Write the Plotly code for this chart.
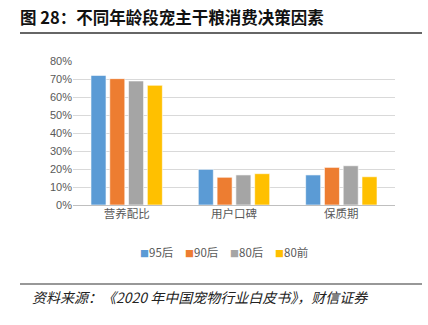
import plotly.graph_objects as go

categories = ["营养配比", "用户口碑", "保质期"]
series_names = ["95后", "90后", "80后", "80前"]
v95 = [0.72, 0.198, 0.167]
v90 = [0.702, 0.154, 0.209]
v80 = [0.689, 0.167, 0.218]
v80q = [0.665, 0.174, 0.157]
colors = ["#5B9BD5", "#ED7D31", "#A5A5A5", "#FFC000"]
yticks = [0, 0.1, 0.2, 0.3, 0.4, 0.5, 0.6, 0.7, 0.8]

W, H = 428, 325
L, R, T, B = 73, 33, 61, 120
pw, ph = W - L - R, H - T - B

def px(x):
    return (x - L) / pw

def py(y):
    return (H - B - y) / ph

fig = go.Figure()
for name, vals, c in zip(series_names, [v95, v90, v80, v80q], colors):
    fig.add_trace(go.Bar(x=categories, y=vals, name=name, showlegend=False,
                         marker=dict(color=c, line=dict(color="white", width=0.6))))

fig.update_layout(
    width=W, height=H,
    margin=dict(l=L, r=R, t=T, b=B),
    paper_bgcolor="white", plot_bgcolor="white",
    barmode="group", bargap=0.3, bargroupgap=0.2,
    font=dict(family="Noto Sans CJK SC", color="#595959", size=11),
    title=dict(text="<b>图 28：不同年龄段宠主干粮消费决策因素</b>", xref="container", yref="container",
               x=20 / W, xanchor="left", y=1 - 18 / H, yanchor="middle",
               font=dict(family="Noto Sans CJK SC", size=16.5, color="#111111")),
)
fig.update_yaxes(range=[0, 0.8], tickvals=yticks, tickformat=".0%", showgrid=True, gridcolor="#D9D9D9",
                 gridwidth=1, zeroline=True, zerolinecolor="#BFBFBF", zerolinewidth=1,
                 tickfont=dict(family="Liberation Sans", size=11, color="#595959"), ticks="", fixedrange=True)
fig.update_xaxes(showline=False, ticks="", tickfont=dict(size=11.5, color="#595959"))

# legend drawn as compact text items
leg_x = [138, 183, 228, 273]
for name, c, lx in zip(series_names, colors, leg_x):
    fig.add_annotation(text=f"<span style='color:{c};font-size:9px'>■</span>{name}", xref="paper", yref="paper",
                       x=px(lx), xanchor="left", y=py(252), yanchor="middle", showarrow=False,
                       font=dict(family="Noto Sans CJK SC", size=11.5, color="#595959"))

fig.add_shape(type="line", xref="paper", yref="paper", x0=px(20), x1=px(422), y0=py(33), y1=py(33),
              line=dict(color="#333333", width=1.5))
fig.add_shape(type="line", xref="paper", yref="paper", x0=px(20), x1=px(422), y0=py(284), y1=py(284),
              line=dict(color="#333333", width=1.2))
fig.add_annotation(text="<i>资料来源：《2020 年中国宠物行业白皮书》，财信证券</i>", xref="paper", yref="paper",
                   x=px(30), xanchor="left", y=py(297), yanchor="middle", showarrow=False,
                   font=dict(family="Noto Sans CJK SC", size=14, color="#222222"))

fig.write_html("out.html")
